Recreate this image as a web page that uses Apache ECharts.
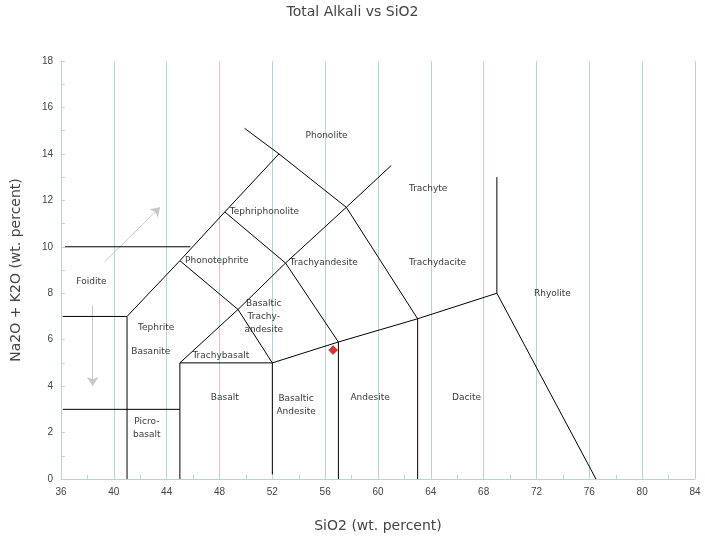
<!DOCTYPE html>
<html>
<head>
<meta charset="utf-8">
<script src="https://cdn.jsdelivr.net/npm/echarts@6/dist/echarts.min.js"></script>
<style>html,body{margin:0;padding:0;background:#fff}#main{width:705px;height:540px}</style>
</head>
<body>
<div id="main"></div>
<script>
// field boundaries (SiO2, Na2O+K2O)
var boundaries = [
    [[36.3, 10], [45.8, 10]],
    [[36.15, 7], [41, 7], [41, 0]],
    [[36.15, 3], [45, 3]],
    [[41, 7], [45, 9.4], [48.4, 11.5], [52.5, 14]],
    [[49.9, 15.1], [52.5, 14], [57.6, 11.7], [63, 6.9], [63, 0]],
    [[57.6, 11.7], [61, 13.5]],
    [[48.4, 11.5], [53, 9.3], [57.6, 11.7]],
    [[45, 9.4], [49.4, 7.3], [53, 9.3]],
    [[53, 9.3], [57, 5.9], [57, 0]],
    [[45, 0], [45, 5], [52, 5], [52, 0.2]],
    [[45, 5], [49.4, 7.3], [52, 5]],
    [[52, 5], [57, 5.9], [63, 6.9], [69, 8], [76.5, 0]],
    [[69, 8], [69, 13]]
];
var arrows = [
    [[39.3, 9.35], [43.5, 11.7]],
    [[38.4, 7.5], [38.4, 4.0]]
];
var sample = [[56.6, 5.55]];
var fieldLabels = [
    ['Phonolite', 56.1, 14.8], ['Trachyte', 63.8, 12.5], ['Tephriphonolite', 51.4, 11.5],
    ['Foidite', 38.3, 8.5], ['Phonotephrite', 47.8, 9.4], ['Trachyandesite', 55.9, 9.3],
    ['Trachydacite', 64.5, 9.3], ['Rhyolite', 73.2, 8.0], ['Tephrite', 43.2, 6.5],
    ['Basaltic\nTrachy-\nandesite', 51.35, 7.0], ['Basanite', 42.8, 5.5],
    ['Trachybasalt', 48.1, 5.3], ['Basalt', 48.4, 3.5], ['Basaltic\nAndesite', 53.8, 3.2],
    ['Andesite', 59.4, 3.5], ['Dacite', 66.7, 3.5], ['Picro-\nbasalt', 42.5, 2.2]
];

var axisColor = '#b8d4d8';
var series = [];
boundaries.forEach(function (b) {
    series.push({type: 'line', data: b, symbol: 'none', silent: true,
        lineStyle: {color: '#000', width: 1}});
});
arrows.forEach(function (a) {
    series.push({type: 'lines', coordinateSystem: 'cartesian2d', silent: true,
        symbol: ['none', 'arrow'], symbolSize: 9,
        lineStyle: {color: '#c8c8c8', width: 1, opacity: 1},
        data: [{coords: a}]});
});
series.push({type: 'scatter', data: sample, symbol: 'diamond', symbolSize: 9,
    itemStyle: {color: '#d40000', borderColor: '#600', borderWidth: 0.5}});
series.push({type: 'scatter', symbolSize: 0, silent: true,
    data: fieldLabels.map(function (l) { return {name: l[0], value: [l[1], l[2]]}; }),
    label: {show: true, position: 'inside', formatter: '{b}', color: '#000',
        fontSize: 9, fontFamily: 'DejaVu Sans', lineHeight: 13}});

var chart = echarts.init(document.getElementById('main'));
chart.setOption({
    animation: false,
    title: {text: 'Total Alkali vs SiO2', left: 'center', top: 0,
        textStyle: {fontSize: 14, fontWeight: 'normal', color: '#444', fontFamily: 'DejaVu Sans'}},
    grid: {left: 61, right: 10, top: 61, bottom: 61},
    xAxis: {type: 'value', min: 36, max: 84, interval: 4, name: 'SiO2 (wt. percent)',
        nameLocation: 'middle', nameGap: 40,
        nameTextStyle: {fontSize: 14, color: '#444', fontFamily: 'DejaVu Sans'},
        axisLine: {lineStyle: {color: axisColor}},
        axisTick: {inside: true, length: 4, lineStyle: {color: axisColor}},
        minorTick: {show: true, splitNumber: 2, length: 4, lineStyle: {color: axisColor}},
        axisLabel: {color: '#444', fontSize: 10},
        splitLine: {show: true, lineStyle: {color: axisColor}}},
    yAxis: {type: 'value', min: 0, max: 18, interval: 2, name: 'Na2O + K2O (wt. percent)',
        nameLocation: 'middle', nameGap: 38,
        nameTextStyle: {fontSize: 14, color: '#444', fontFamily: 'DejaVu Sans'},
        axisLine: {show: true, lineStyle: {color: axisColor}},
        axisTick: {show: true, inside: true, length: 4, lineStyle: {color: axisColor}},
        minorTick: {show: true, splitNumber: 2, length: 4, lineStyle: {color: axisColor}},
        axisLabel: {color: '#444', fontSize: 10},
        splitLine: {show: false}},
    series: series
});
</script>
</body>
</html>
